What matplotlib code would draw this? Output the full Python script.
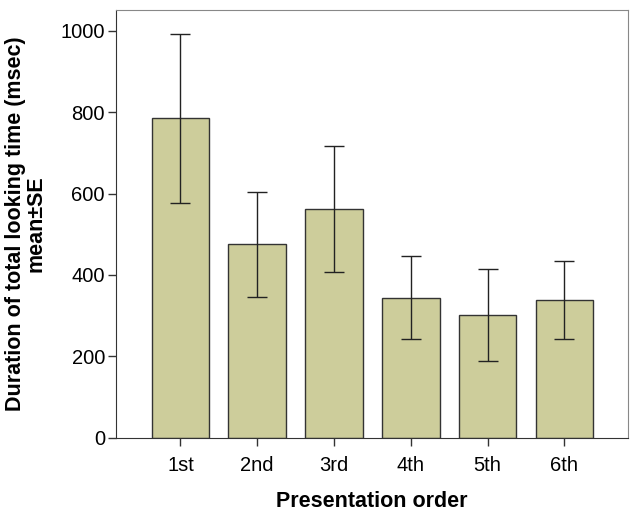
import matplotlib.pyplot as plt
import numpy as np

plt.rcParams['font.family'] = ['Liberation Sans', 'DejaVu Sans']

# presentation order vs mean looking time with SE bars
orders = ['1st', '2nd', '3rd', '4th', '5th', '6th']
means = [785, 475, 563, 344, 302, 339]
upper = [993, 603, 716, 446, 414, 435]
lower = [577, 346, 407, 243, 189, 243]

x = np.arange(len(orders))
yerr = [np.array(means) - np.array(lower), np.array(upper) - np.array(means)]

fig = plt.figure(figsize=(6.38, 5.14), dpi=100)
ax = fig.add_axes([116 / 638, 1 - 437.7 / 514, 512 / 638, 428 / 514])

ax.bar(x, means, width=0.75, color='#cdcd9b', edgecolor='#333333', linewidth=1.0, zorder=2)
ax.errorbar(x, means, yerr=yerr, fmt='none', ecolor='#222222', elinewidth=1.0,
            capsize=7, capthick=1.0, zorder=3)

ax.set_xlim(-0.84, 5.83)
ax.set_ylim(0, 1052)
ax.set_yticks([0, 200, 400, 600, 800, 1000])
ax.set_xticks(x)
ax.set_xticklabels(orders)

for side in ['top', 'right']:
    ax.spines[side].set_color('#888888')
for side in ['left', 'bottom']:
    ax.spines[side].set_color('#333333')
ax.tick_params(axis='both', direction='out', length=6, width=1, color='#333333',
               labelsize=14.5, top=False, right=False)
ax.tick_params(axis='x', pad=7)
ax.tick_params(axis='y', pad=2)

ax.set_xlabel('Presentation order', fontsize=15.5, fontweight='bold', labelpad=12)
ax.set_ylabel('Duration of total looking time (msec)\nmean±SE', fontsize=15.5,
              fontweight='bold', linespacing=0.95, labelpad=10)

plt.savefig('out.png', dpi=100)
